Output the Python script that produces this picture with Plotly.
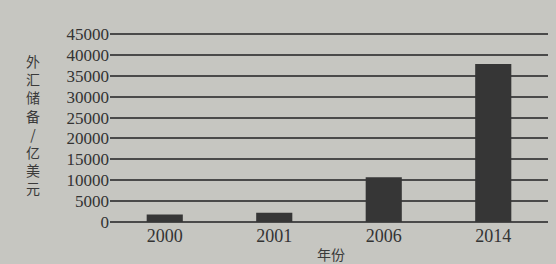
import plotly.graph_objects as go

years = ["2000", "2001", "2006", "2014"]
reserves = [1800, 2200, 10700, 37800]
y_ticks = [0, 5000, 10000, 15000, 20000, 25000, 30000, 35000, 40000, 45000]
y_title_chars = ["外", "汇", "储", "备", "/", "亿", "美", "元"]
x_title = "年份"

bg = "#c6c6c1"

fig = go.Figure()
fig.add_trace(go.Bar(x=years, y=reserves, marker=dict(color="#363636", line=dict(width=0)), width=0.33))

fig.update_layout(
    width=556, height=264,
    margin=dict(l=110, r=8, t=33, b=41),
    paper_bgcolor=bg,
    plot_bgcolor=bg,
    showlegend=False,
    font=dict(family="Liberation Serif", color="#333333", size=16),
    xaxis=dict(type="category", showgrid=False, zeroline=False, showline=False, ticks="",
               tickfont=dict(size=18, family="Liberation Serif", color="#333333")),
    yaxis=dict(range=[-250, 45250], tickvals=y_ticks, ticktext=[str(v) for v in y_ticks],
               showgrid=True, gridcolor="#4a4a4a", gridwidth=1.5,
               zeroline=True, zerolinecolor="#4a4a4a", zerolinewidth=1.5, showline=False,
               ticks="", ticklen=0, tickfont=dict(size=17, family="Liberation Serif", color="#333333")),
    annotations=[
        dict(text="<br>".join(y_title_chars), xref="paper", yref="paper", x=-0.175, y=0.52,
             xanchor="center", yanchor="middle", showarrow=False,
             font=dict(family="Noto Sans CJK SC", size=14, color="#3a3a3a")),
        dict(text=x_title, xref="paper", yref="paper", x=0.505, y=0, yshift=-31,
             xanchor="center", yanchor="middle", showarrow=False,
             font=dict(family="Noto Sans CJK SC", size=14, color="#3a3a3a")),
    ],
)

fig.write_html("out.html", config={"displayModeBar": False},
               post_script="document.body.style.margin='0';document.body.style.background='" + bg + "';")
